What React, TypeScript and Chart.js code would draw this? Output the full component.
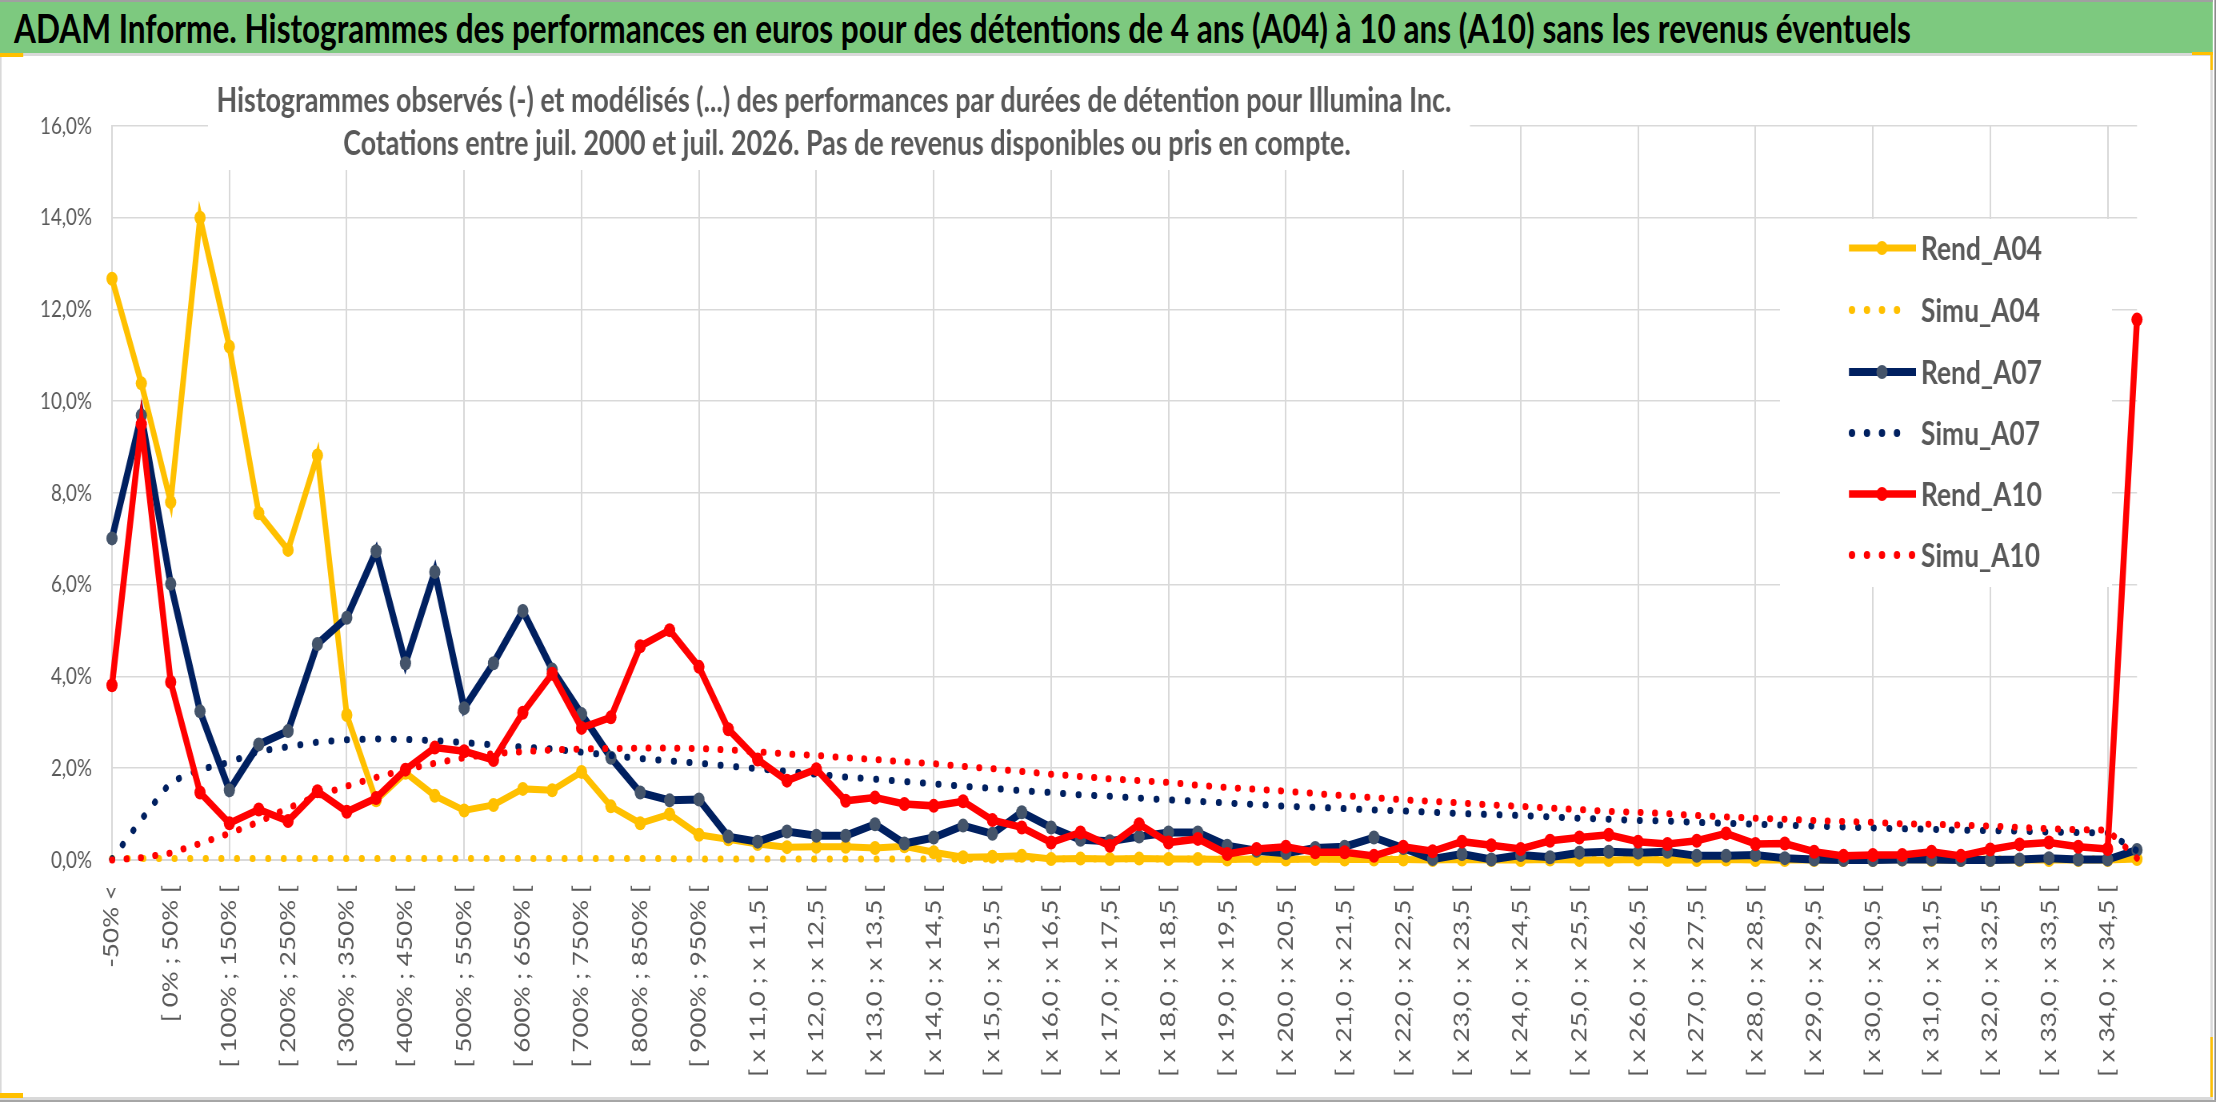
import React, { useEffect, useRef, useMemo } from 'react';
import { Chart, registerables } from 'chart.js';

Chart.register(...registerables);

// ---------------- DATA ----------------
const CATEGORIES = [
  '-50% <', '[ -50% ; 0% [', '[ 0% ; 50% [', '[ 50% ; 100% [', '[ 100% ; 150% [', '[ 150% ; 200% [',
  '[ 200% ; 250% [', '[ 250% ; 300% [', '[ 300% ; 350% [', '[ 350% ; 400% [', '[ 400% ; 450% [',
  '[ 450% ; 500% [', '[ 500% ; 550% [', '[ 550% ; 600% [', '[ 600% ; 650% [', '[ 650% ; 700% [',
  '[ 700% ; 750% [', '[ 750% ; 800% [', '[ 800% ; 850% [', '[ 850% ; 900% [', '[ 900% ; 950% [',
  '[ 950% ; 1000% [',
  '[ x 11,0 ; x 11,5 [', '[ x 11,5 ; x 12,0 [', '[ x 12,0 ; x 12,5 [', '[ x 12,5 ; x 13,0 [',
  '[ x 13,0 ; x 13,5 [', '[ x 13,5 ; x 14,0 [', '[ x 14,0 ; x 14,5 [', '[ x 14,5 ; x 15,0 [',
  '[ x 15,0 ; x 15,5 [', '[ x 15,5 ; x 16,0 [', '[ x 16,0 ; x 16,5 [', '[ x 16,5 ; x 17,0 [',
  '[ x 17,0 ; x 17,5 [', '[ x 17,5 ; x 18,0 [', '[ x 18,0 ; x 18,5 [', '[ x 18,5 ; x 19,0 [',
  '[ x 19,0 ; x 19,5 [', '[ x 19,5 ; x 20,0 [', '[ x 20,0 ; x 20,5 [', '[ x 20,5 ; x 21,0 [',
  '[ x 21,0 ; x 21,5 [', '[ x 21,5 ; x 22,0 [', '[ x 22,0 ; x 22,5 [', '[ x 22,5 ; x 23,0 [',
  '[ x 23,0 ; x 23,5 [', '[ x 23,5 ; x 24,0 [', '[ x 24,0 ; x 24,5 [', '[ x 24,5 ; x 25,0 [',
  '[ x 25,0 ; x 25,5 [', '[ x 25,5 ; x 26,0 [', '[ x 26,0 ; x 26,5 [', '[ x 26,5 ; x 27,0 [',
  '[ x 27,0 ; x 27,5 [', '[ x 27,5 ; x 28,0 [', '[ x 28,0 ; x 28,5 [', '[ x 28,5 ; x 29,0 [',
  '[ x 29,0 ; x 29,5 [', '[ x 29,5 ; x 30,0 [', '[ x 30,0 ; x 30,5 [', '[ x 30,5 ; x 31,0 [',
  '[ x 31,0 ; x 31,5 [', '[ x 31,5 ; x 32,0 [', '[ x 32,0 ; x 32,5 [', '[ x 32,5 ; x 33,0 [',
  '[ x 33,0 ; x 33,5 [', '[ x 33,5 ; x 34,0 [', '[ x 34,0 ; x 34,5 [', '> x 34,5',
];

const REND_A04 = [
  12.67, 10.39, 7.80, 14.00, 11.19, 7.56, 6.76, 8.82, 3.16, 1.30,
  1.90, 1.40, 1.08, 1.20, 1.55, 1.52, 1.92, 1.17, 0.80, 1.00,
  0.55, 0.45, 0.35, 0.28, 0.29, 0.29, 0.26, 0.30, 0.17, 0.06,
  0.07, 0.09, 0.02, 0.03, 0.02, 0.03, 0.02, 0.02, 0.01, 0.02,
  0.01, 0.02, 0.01, 0.01, 0.01, 0.00, 0.01, 0.00, 0.00, 0.01,
  0.00, 0.00, 0.01, 0.00, 0.00, 0.01, 0.00, 0.00, 0.00, 0.00,
  0.00, 0.01, 0.00, 0.00, 0.00, 0.00, 0.00, 0.00, 0.00, 0.02,
];
const SIMU_A04 = [
  0.03, 0.03, 0.03, 0.03, 0.03, 0.03, 0.03, 0.03, 0.03, 0.03,
  0.03, 0.03, 0.03, 0.03, 0.03, 0.03, 0.03, 0.03, 0.03, 0.03,
  0.02, 0.02, 0.02, 0.02, 0.02, 0.02, 0.02, 0.02, 0.02, 0.02,
  0.02, 0.02, 0.02, 0.02, 0.02, 0.02, 0.02, 0.02, 0.02, 0.02,
  0.02, 0.02, 0.02, 0.02, 0.02, 0.02, 0.02, 0.02, 0.02, 0.02,
  0.02, 0.02, 0.02, 0.02, 0.02, 0.02, 0.02, 0.02, 0.02, 0.02,
  0.02, 0.02, 0.02, 0.02, 0.02, 0.02, 0.02, 0.02, 0.02, 0.02,
];
const REND_A07 = [
  7.01, 9.69, 6.02, 3.24, 1.52, 2.52, 2.81, 4.71, 5.28, 6.73,
  4.29, 6.28, 3.31, 4.29, 5.43, 4.15, 3.18, 2.23, 1.47, 1.30,
  1.32, 0.51, 0.40, 0.62, 0.53, 0.53, 0.78, 0.36, 0.49, 0.75,
  0.57, 1.04, 0.71, 0.44, 0.41, 0.51, 0.60, 0.60, 0.31, 0.20,
  0.15, 0.26, 0.29, 0.49, 0.26, 0.02, 0.13, 0.01, 0.11, 0.06,
  0.16, 0.18, 0.16, 0.18, 0.09, 0.09, 0.11, 0.04, 0.01, 0.00,
  0.00, 0.01, 0.01, 0.00, 0.00, 0.01, 0.04, 0.01, 0.01, 0.22,
];
const SIMU_A07 = [
  0.02, 0.88, 1.70, 1.97, 2.13, 2.37, 2.47, 2.57, 2.62, 2.64,
  2.63, 2.60, 2.56, 2.51, 2.46, 2.42, 2.35, 2.28, 2.21, 2.16,
  2.11, 2.05, 1.99, 1.93, 1.87, 1.81, 1.76, 1.71, 1.66, 1.61,
  1.56, 1.51, 1.47, 1.42, 1.39, 1.35, 1.31, 1.28, 1.24, 1.21,
  1.17, 1.15, 1.12, 1.09, 1.07, 1.04, 1.01, 0.99, 0.97, 0.94,
  0.91, 0.89, 0.86, 0.85, 0.82, 0.80, 0.78, 0.76, 0.74, 0.72,
  0.70, 0.68, 0.67, 0.65, 0.64, 0.63, 0.61, 0.60, 0.59, 0.20,
];
const REND_A10 = [
  3.81, 9.50, 3.88, 1.47, 0.80, 1.10, 0.85, 1.50, 1.05, 1.35,
  1.97, 2.45, 2.37, 2.18, 3.21, 4.06, 2.88, 3.11, 4.66, 5.01,
  4.21, 2.85, 2.19, 1.73, 1.98, 1.29, 1.36, 1.22, 1.18, 1.28,
  0.87, 0.71, 0.38, 0.60, 0.31, 0.78, 0.38, 0.46, 0.13, 0.24,
  0.29, 0.17, 0.17, 0.09, 0.29, 0.19, 0.40, 0.32, 0.24, 0.42,
  0.49, 0.55, 0.40, 0.35, 0.42, 0.58, 0.35, 0.36, 0.18, 0.09,
  0.11, 0.11, 0.18, 0.09, 0.23, 0.34, 0.38, 0.29, 0.24, 11.78,
];
const SIMU_A10 = [
  0.00, 0.05, 0.15, 0.36, 0.58, 0.83, 1.13, 1.40, 1.61, 1.80,
  1.97, 2.11, 2.23, 2.32, 2.36, 2.40, 2.42, 2.43, 2.44, 2.44,
  2.43, 2.40, 2.36, 2.31, 2.28, 2.23, 2.19, 2.14, 2.10, 2.04,
  1.99, 1.93, 1.87, 1.82, 1.77, 1.73, 1.69, 1.63, 1.58, 1.54,
  1.50, 1.45, 1.40, 1.36, 1.31, 1.28, 1.24, 1.20, 1.17, 1.13,
  1.10, 1.06, 1.04, 1.01, 0.97, 0.94, 0.91, 0.89, 0.86, 0.84,
  0.82, 0.79, 0.78, 0.76, 0.74, 0.71, 0.68, 0.66, 0.65, 0.04,
];

const Y_TICKS = [0, 2, 4, 6, 8, 10, 12, 14, 16];

const BANNER_TEXT =
  'ADAM Informe. Histogrammes des performances en euros pour des détentions de 4 ans (A04) à 10 ans (A10) sans les revenus éventuels';
const TITLE_LINE_1 =
  'Histogrammes observés (-) et modélisés (...) des performances par durées de détention pour Illumina Inc.';
const TITLE_LINE_2 =
  'Cotations entre juil. 2000 et juil. 2026. Pas de revenus disponibles ou pris en compte.';

// ---------------- STYLE / LAYOUT ----------------
const K = 0.8; // horizontal compression of the whole picture
const PAGE_W = 2216;
const PAGE_H = 1102;
const sx = (x: number) => x / K;
const CANVAS_TOP = 57;
const cy = (y: number) => y - CANVAS_TOP;
const CW = Math.round(sx(2210));
const CH = 1040;
const FAMILY = "Lato, 'Open Sans', 'Noto Sans', sans-serif";
const GRID = '#d9d9d9';
const TEXT = '#595959';
const YELLOW = '#FFC000';
const NAVY = '#002060';
const NAVY_MARK = '#44546A';
const RED = '#FF0000';
const GREEN = '#7DC97F';

function fitFont(text: string, weight: string, target: number, fallback: number) {
  try {
    const ctx = document.createElement('canvas').getContext('2d');
    if (!ctx) return fallback;
    ctx.font = `${weight} 100px ${FAMILY}`;
    const w = ctx.measureText(text).width;
    return w > 0 ? (100 * target) / w : fallback;
  } catch (e) {
    return fallback;
  }
}

export default function App() {
  const ref = useRef<HTMLCanvasElement | null>(null);
  const bannerSize = useMemo(() => fitFont(BANNER_TEXT, 'bold', sx(1898), 34), []);

  useEffect(() => {
    const canvas = ref.current;
    if (!canvas) return;

    const xTickSize = fitFont('[ x 34,0 ; x 34,5 [', 'normal', 192, 26);
    const yTickSize = fitFont('16,0%', 'normal', sx(52), 22);
    const legendSize = fitFont('Rend_A04', 'bold', sx(121), 30);
    const t1 = fitFont(TITLE_LINE_1, 'bold', sx(1230), 28);
    const t2 = fitFont(TITLE_LINE_2, 'bold', sx(1012), 28);
    const titleSize = (t1 + t2) / 2;

    const legendItems = [
      { label: 'Rend_A04', color: YELLOW, mark: YELLOW, dotted: false, dots: 0, lw: 7 },
      { label: 'Simu_A04', color: YELLOW, mark: YELLOW, dotted: true, dots: 4, lw: 7 },
      { label: 'Rend_A07', color: NAVY, mark: NAVY_MARK, dotted: false, dots: 0, lw: 8 },
      { label: 'Simu_A07', color: NAVY, mark: NAVY, dotted: true, dots: 4, lw: 7 },
      { label: 'Rend_A10', color: RED, mark: RED, dotted: false, dots: 0, lw: 7.5 },
      { label: 'Simu_A10', color: RED, mark: RED, dotted: true, dots: 5, lw: 7 },
    ];
    const legendRows = [248, 310, 372, 433, 494, 555];

    const overlay = {
      id: 'overlay',
      afterDatasetsDraw(chart: any) {
        const ctx: CanvasRenderingContext2D = chart.ctx;
        ctx.save();
        // title box
        ctx.fillStyle = '#ffffff';
        ctx.fillRect(sx(208), 0, sx(1470) - sx(208), cy(170));
        ctx.fillStyle = TEXT;
        ctx.font = `bold ${titleSize}px ${FAMILY}`;
        ctx.textAlign = 'center';
        ctx.textBaseline = 'alphabetic';
        ctx.fillText(TITLE_LINE_1, sx(834), cy(112));
        ctx.fillText(TITLE_LINE_2, sx(847), cy(155));

        // legend box
        ctx.fillStyle = '#ffffff';
        ctx.fillRect(sx(1780), cy(219), sx(2112) - sx(1780), cy(587) - cy(219));
        legendItems.forEach((it, i) => {
          const y = cy(legendRows[i]);
          if (!it.dotted) {
            ctx.strokeStyle = it.color;
            ctx.lineWidth = it.lw;
            ctx.lineCap = 'butt';
            ctx.beginPath();
            ctx.moveTo(sx(1849), y);
            ctx.lineTo(sx(1916), y);
            ctx.stroke();
            ctx.fillStyle = it.mark;
            ctx.beginPath();
            ctx.arc(sx(1882), y, 7, 0, Math.PI * 2);
            ctx.fill();
          } else {
            ctx.fillStyle = it.color;
            for (let j = 0; j < it.dots; j++) {
              ctx.beginPath();
              ctx.arc(sx(1852 + 15 * j), y, 4, 0, Math.PI * 2);
              ctx.fill();
            }
          }
          ctx.fillStyle = TEXT;
          ctx.font = `bold ${legendSize}px ${FAMILY}`;
          ctx.textAlign = 'left';
          ctx.textBaseline = 'middle';
          ctx.fillText(it.label, sx(1921), y + 1);
        });
        ctx.restore();
      },
    };

    const rend = (label: string, data: number[], color: string, mark: string, lw: number, order: number) => ({
      label,
      data,
      borderColor: color,
      backgroundColor: mark,
      borderWidth: lw,
      pointRadius: 7,
      pointBackgroundColor: mark,
      pointBorderColor: mark,
      pointBorderWidth: 0,
      tension: 0,
      clip: false as any,
      order,
    });
    const simu = (label: string, data: number[], color: string, gap: number, order: number) => ({
      label,
      data,
      borderColor: color,
      backgroundColor: color,
      borderWidth: 7,
      borderDash: [0.5, gap],
      borderCapStyle: 'round' as const,
      pointRadius: 0,
      tension: 0,
      clip: false as any,
      order,
    });

    const chart = new Chart(canvas, {
      type: 'line',
      data: {
        labels: CATEGORIES,
        datasets: [
          rend('Rend_A04', REND_A04, YELLOW, YELLOW, 7, 6),
          simu('Simu_A04', SIMU_A04, YELLOW, 19, 5),
          rend('Rend_A07', REND_A07, NAVY, NAVY_MARK, 8, 4),
          simu('Simu_A07', SIMU_A07, NAVY, 19, 3),
          rend('Rend_A10', REND_A10, RED, RED, 7.5, 2),
          simu('Simu_A10', SIMU_A10, RED, 17.5, 1),
        ] as any,
      },
      options: {
        responsive: false,
        animation: false,
        devicePixelRatio: 1,
        layout: { padding: { top: cy(126), right: CW - sx(2137), bottom: 0, left: 0 } },
        plugins: {
          legend: { display: false },
          title: { display: false },
          tooltip: { enabled: false },
        },
        scales: {
          x: {
            type: 'category',
            offset: false,
            grid: {
              color: (c: any) => (c.index % 4 === 0 ? GRID : 'rgba(0,0,0,0)'),
              lineWidth: 2,
              drawTicks: false,
            },
            border: { color: GRID, width: 2 },
            ticks: {
              autoSkip: false,
              maxRotation: 90,
              minRotation: 90,
              padding: 25,
              color: TEXT,
              font: { family: FAMILY, size: xTickSize },
              callback: (_v: any, i: number) => (i % 2 === 0 ? CATEGORIES[i] : ''),
            },
            afterFit: (s: any) => {
              s.height = CH - cy(860);
            },
          },
          y: {
            min: Y_TICKS[0],
            max: Y_TICKS[Y_TICKS.length - 1],
            afterBuildTicks: (s: any) => {
              s.ticks = Y_TICKS.map((v) => ({ value: v }));
            },
            grid: { color: GRID, lineWidth: 1.6, drawTicks: false },
            border: { color: GRID, width: 2 },
            ticks: {
              padding: sx(20),
              color: TEXT,
              font: { family: FAMILY, size: yTickSize },
              callback: (v: any) => Number(v).toFixed(1).replace('.', ',') + '%',
            },
            afterFit: (s: any) => {
              s.width = sx(112);
            },
          },
        },
      } as any,
      plugins: [overlay],
    });
    return () => chart.destroy();
  }, []);

  return (
    <div
      style={{
        position: 'fixed',
        left: 0,
        top: 0,
        width: sx(PAGE_W),
        height: PAGE_H,
        transform: `scaleX(${K})`,
        transformOrigin: '0 0',
        background: '#ffffff',
        overflow: 'hidden',
      }}
    >
      <div
        style={{
          position: 'absolute',
          left: 0,
          top: 0,
          width: sx(2213),
          height: 53,
          background: GREEN,
          borderTop: '2px solid #a0a0a0',
          boxSizing: 'border-box',
          display: 'flex',
          alignItems: 'center',
          paddingLeft: sx(14),
          fontFamily: FAMILY,
          fontWeight: 700,
          fontSize: bannerSize,
          color: '#000000',
          whiteSpace: 'nowrap',
        }}
      >
        {BANNER_TEXT}
      </div>
      <div
        style={{
          position: 'absolute',
          left: 0,
          top: 53,
          width: sx(2213),
          height: PAGE_H - 53 - 2,
          border: `3px solid ${GRID}`,
          borderLeftWidth: 2,
          boxSizing: 'border-box',
        }}
      />
      <canvas
        ref={ref}
        width={CW}
        height={CH}
        style={{ position: 'absolute', left: 0, top: CANVAS_TOP, width: CW, height: CH }}
      />
      <div style={{ position: 'absolute', left: sx(2214), top: 0, width: sx(2), height: PAGE_H, background: '#8c8c8c' }} />
      <div style={{ position: 'absolute', left: 0, top: PAGE_H - 2, width: sx(PAGE_W), height: 2, background: '#a6a6a6' }} />
      <div style={{ position: 'absolute', left: 0, top: 53, width: sx(23), height: 4, background: YELLOW }} />
      <div style={{ position: 'absolute', left: sx(2192), top: 52, width: sx(21), height: 3, background: YELLOW }} />
      <div style={{ position: 'absolute', left: sx(2210), top: 52, width: sx(3), height: 18, background: YELLOW }} />
      <div style={{ position: 'absolute', left: sx(2210), top: 1037, width: sx(3), height: 60, background: YELLOW }} />
      <div style={{ position: 'absolute', left: 0, top: 1093, width: sx(23), height: 5, background: YELLOW }} />
    </div>
  );
}
